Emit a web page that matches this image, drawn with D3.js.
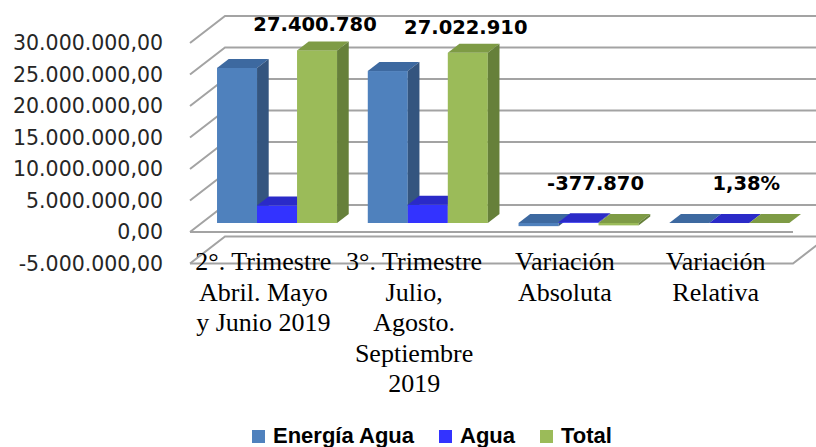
<!DOCTYPE html>
<html>
<head>
<meta charset="utf-8">
<script src="https://cdn.jsdelivr.net/npm/d3@7"></script>
<style>
  body { margin: 0; background: #fff; }
  svg { display: block; }
</style>
</head>
<body>
<svg id="chart" width="816" height="447"></svg>
<script>
// categories, each split in the lines it shows under the axis
const categories = [
  ["2°. Trimestre", "Abril. Mayo", "y Junio 2019"],
  ["3°. Trimestre", "Julio,", "Agosto.", "Septiembre", "2019"],
  ["Variación", "Absoluta"],
  ["Variación", "Relativa"]
];
const seriesNames = ["Energía Agua", "Agua", "Total"];
const energiaAgua = [24620000, 24120000, -500000, -0.0203];
const agua = [2780780, 2902910, 122130, 0.0439];
const total = [27400780, 27022910, -377870, 0.0138];
const yTicks = [-5000000, 0, 5000000, 10000000, 15000000, 20000000, 25000000, 30000000];

const colors = {
  "Energía Agua": { front: "#4F81BD", top: "#3D69A0", side: "#34557F" },
  "Agua": { front: "#3333FF", top: "#2A2AC8", side: "#2424A6" },
  "Total": { front: "#9BBB59", top: "#7E9B45", side: "#66803A" }
};

const locale = d3.formatLocale({ decimal: ",", thousands: ".", grouping: [3], currency: ["", ""], minus: "-" });
const fmtTick = locale.format(",.2f");
const fmtNum = locale.format(",.0f");
const fmtPct = locale.format(".2%");

const svg = d3.select("#chart");

// front plane of the 3D box
const x0 = d3.scaleBand().domain(d3.range(categories.length)).range([190, 793]);
const x1 = d3.scaleBand().domain(seriesNames).range([0, x0.bandwidth()]).paddingOuter(0.384);
const y = d3.scaleLinear().domain([-5000000, 30000000]).range([263.5, 43]);

// depth vector of the box, bars sit in the middle third
const D = { x: 35, y: -27 };
const f1 = 1 / 3, f2 = 2 / 3;

const gridColor = "#A3A3A3";
const grid = svg.append("g").attr("stroke", gridColor).attr("stroke-width", 2).attr("fill", "none");

// side wall + back wall gridlines
yTicks.forEach(t => {
  const yf = y(t);
  grid.append("path")
    .attr("d", `M${x0.range()[0]},${yf} L${x0.range()[0] + D.x},${yf + D.y} L${x0.range()[1] + D.x},${yf + D.y}`);
});
// floor front edges
grid.append("path").attr("d", `M${x0.range()[0]},${y(0)} L${x0.range()[1]},${y(0)}`);
grid.append("path")
  .attr("d", `M${x0.range()[0]},${y(-5000000)} L${x0.range()[1]},${y(-5000000)} L${x0.range()[1] + D.x},${y(-5000000) + D.y}`);

// y axis labels
svg.append("g").selectAll("text")
  .data(yTicks)
  .join("text")
  .attr("x", 163)
  .attr("y", d => y(d))
  .attr("dy", "0.36em")
  .attr("text-anchor", "end")
  .attr("font-family", "DejaVu Sans")
  .attr("font-size", 20.5)
  .attr("fill", "#262626")
  .text(d => fmtTick(d));

// bars
const seriesValues = { "Energía Agua": energiaAgua, "Agua": agua, "Total": total };
const bars = svg.append("g");
const dx = (f2 - f1) * D.x, dy = (f2 - f1) * D.y;
const bw = x1.bandwidth();

categories.forEach((c, i) => {
  seriesNames.forEach(s => {
    const v = seriesValues[s][i];
    const xs = x0(i) + x1(s) + f1 * D.x;
    const yt = y(Math.max(v, 0)) + f1 * D.y;
    const yb = y(Math.min(v, 0)) + f1 * D.y;
    const col = colors[s];
    const g = bars.append("g");
    g.append("rect")
      .attr("x", xs).attr("y", yt)
      .attr("width", bw).attr("height", Math.max(yb - yt, 0.01))
      .attr("fill", col.front);
    g.append("path")
      .attr("d", `M${xs},${yt} L${xs + bw},${yt} L${xs + bw + dx},${yt + dy} L${xs + dx},${yt + dy} Z`)
      .attr("fill", col.top);
    g.append("path")
      .attr("d", `M${xs + bw},${yt} L${xs + bw + dx},${yt + dy} L${xs + bw + dx},${yb + dy} L${xs + bw},${yb} Z`)
      .attr("fill", col.side);
  });
});

// data labels on the Total series
svg.append("g").selectAll("text")
  .data(total)
  .join("text")
  .attr("x", (d, i) => {
    const cx = x0(i) + x1("Total") + f1 * D.x + bw / 2;
    return Math.abs(d) < 1000000 ? cx - 23 : cx - 2;
  })
  .attr("y", d => Math.min(y(Math.max(d, 0)) + f2 * D.y - 10, y(0) + f2 * D.y - 24))
  .attr("text-anchor", "middle")
  .attr("font-family", "DejaVu Sans")
  .attr("font-weight", "bold")
  .attr("font-size", 19.5)
  .attr("fill", "#000")
  .text((d, i) => i === 3 ? fmtPct(d) : fmtNum(d));

// category labels
const catG = svg.append("g")
  .attr("font-family", "Liberation Serif")
  .attr("font-size", 26)
  .attr("fill", "#000")
  .attr("text-anchor", "middle");
categories.forEach((lines, i) => {
  const t = catG.append("text").attr("x", x0(i) + x0.bandwidth() / 2 - 2).attr("y", 270);
  lines.forEach((l, k) => {
    t.append("tspan").attr("x", x0(i) + x0.bandwidth() / 2 - 2).attr("y", 270 + k * 30.5).text(l);
  });
});

// legend
const legend = svg.append("g");
let lx = 252;
seriesNames.forEach(s => {
  legend.append("rect").attr("x", lx).attr("y", 430).attr("width", 13).attr("height", 13).attr("fill", colors[s].front);
  const t = legend.append("text")
    .attr("x", lx + 21).attr("y", 443)
    .attr("font-family", "Liberation Sans")
    .attr("font-weight", "bold")
    .attr("font-size", 22)
    .attr("fill", "#000")
    .text(s);
  lx += 21 + t.node().getComputedTextLength() + 25;
});
</script>
</body>
</html>
